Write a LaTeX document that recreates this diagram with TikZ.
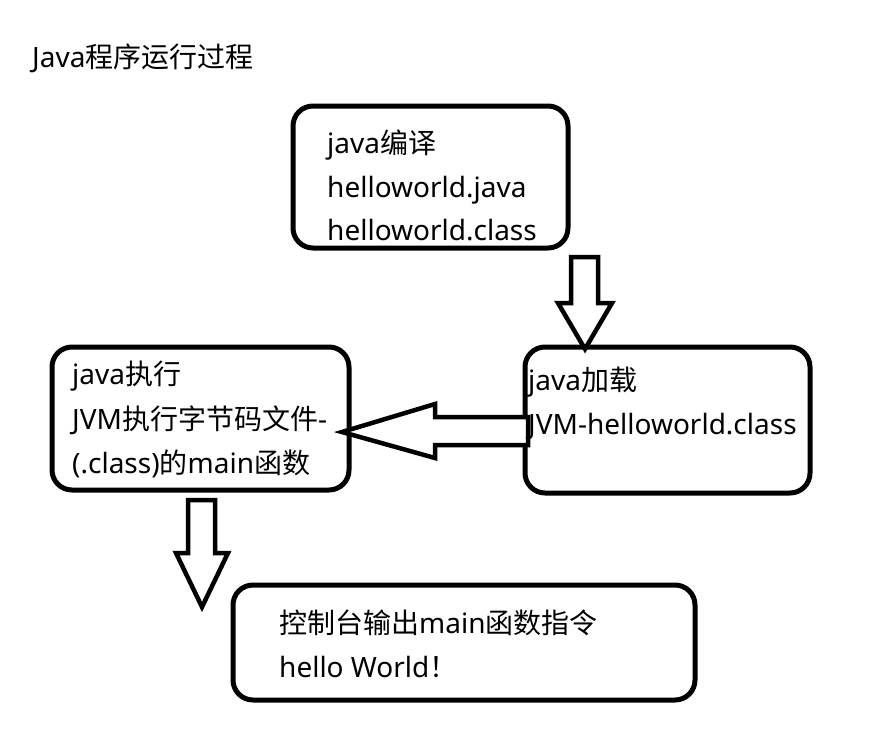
\documentclass[tikz,border=0pt]{standalone}
\usepackage{fontspec}
\setmainfont{Noto Sans}
\newfontfamily\cjk{Noto Sans CJK SC}
\tikzset{
  box/.style={draw=black, line width=5pt, rounded corners=20pt, inner sep=0pt},
  txt/.style={anchor=base west, inner sep=0pt, font=\fontsize{28}{32}\selectfont},
  blockarrow/.style={draw=black, line width=4.5pt, line join=miter, fill=white}
}
\begin{document}
\begin{tikzpicture}[x=1pt,y=-1pt]
\useasboundingbox (0,0) rectangle (882,736);
\node[txt] (title) at (32,67) {Java{\cjk 程序运行过程}};
% boxes
\node[box, minimum width=275pt, minimum height=142pt] (compile) at (430.5,177) {};
\node[box, minimum width=285pt, minimum height=146pt] (load) at (667.5,420) {};
\node[box, minimum width=297pt, minimum height=143pt] (exec) at (200.5,418.5) {};
\node[box, minimum width=462pt, minimum height=115pt] (out) at (464,642.5) {};
% arrows
\draw[blockarrow] (571,257) -- (598,257) -- (598,303) -- (612,303) -- (585,349)
  coordinate (t1) -- (558,303) -- (571,303) -- cycle;
\draw[blockarrow] (528,417) -- (435,417) -- (435,404) -- (342,432) coordinate (t2)
  -- (435,458) -- (435,445) -- (528,445) -- cycle;
\draw[blockarrow] (188,500) -- (215,500) -- (215,553) -- (228,553) -- (202,607)
  coordinate (t3) -- (176,553) -- (188,553) -- cycle;
% texts
\node[txt] (c1) at (327,153) {java{\cjk 编译}};
\node[txt] (c2) at (327,197) {helloworld.java};
\node[txt] (c3) at (327,240) {helloworld.class};
\node[txt] (l1) at (528,390) {java{\cjk 加载}};
\node[txt] (l2) at (528,434) {JVM-helloworld.class};
\node[txt] (e1) at (72,384) {java{\cjk 执行}};
\node[txt] (e2) at (72,429) {JVM{\cjk 执行字节码文件}-};
\node[txt] (e3) at (72,473) {(.class){\cjk 的}main{\cjk 函数}};
\node[txt] (o1) at (279,633) {{\cjk 控制台输出}main{\cjk 函数指令}};
\node[txt] (o2) at (279,677) {hello World{\cjk ！}};
\end{tikzpicture}
\end{document}
